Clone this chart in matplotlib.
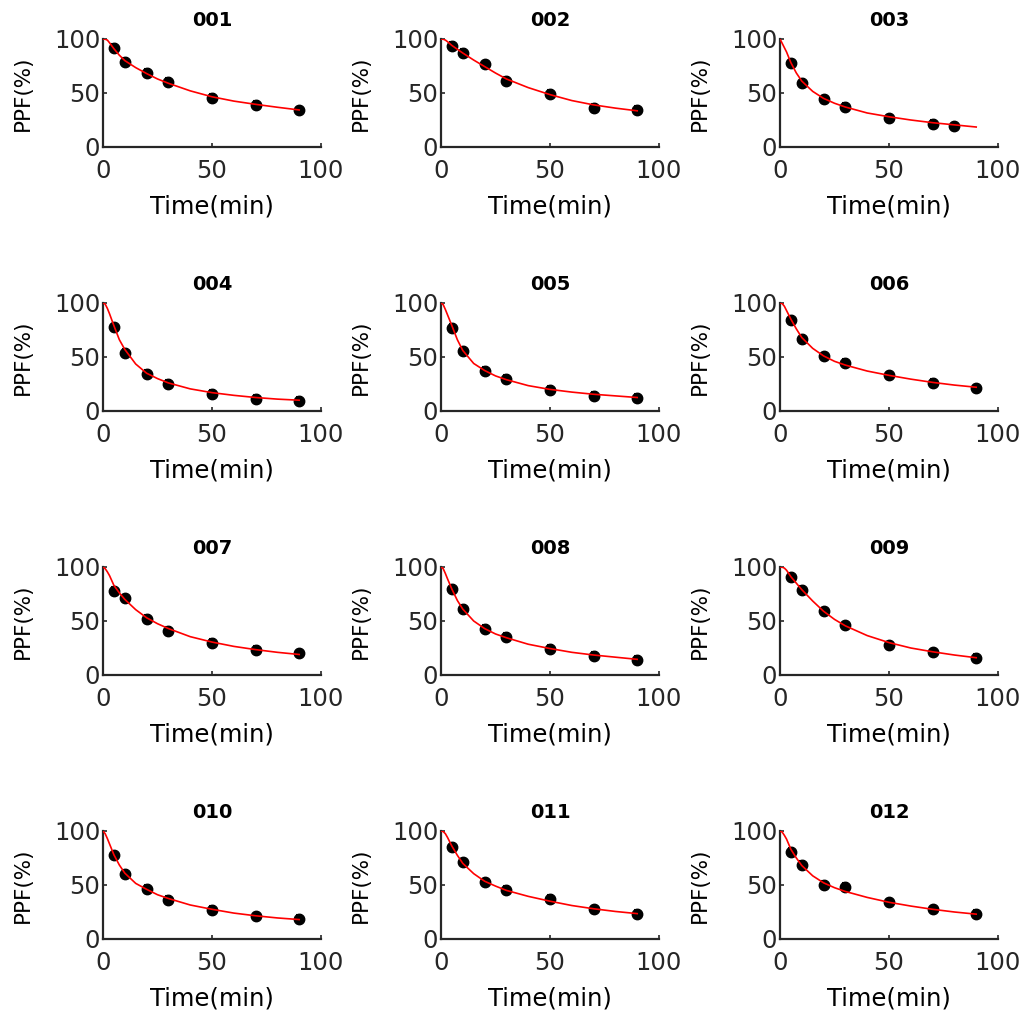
import numpy as np
import matplotlib
matplotlib.use('Agg')
import matplotlib.pyplot as plt

# --- panel names ---
names = ['001', '002', '003', '004', '005', '006',
         '007', '008', '009', '010', '011', '012']

# --- measured points (time in min, PPF in %) ---
t_obs = [5, 10, 20, 30, 50, 70, 90]
t_obs_003 = [5, 10, 20, 30, 50, 70, 80]

ppf_001 = [92, 78.5, 68.5, 60, 45.5, 39, 34]
ppf_002 = [93.5, 87, 76.5, 61.5, 49.5, 36, 34.5]
ppf_003 = [77.5, 59.5, 44, 37, 26.5, 21.5, 19]
ppf_004 = [77.5, 53.5, 34, 25, 16, 11.5, 9.5]
ppf_005 = [77, 55.5, 37, 29.5, 19.5, 14, 12]
ppf_006 = [84.5, 66.5, 50.5, 44.5, 33, 26, 21]
ppf_007 = [78, 71, 52, 41, 30, 23.5, 20]
ppf_008 = [79.5, 61.5, 43, 35, 24, 18, 14]
ppf_009 = [90.5, 79, 59, 46, 27.5, 21, 15.5]
ppf_010 = [77.5, 60, 46.5, 36.5, 27, 21, 18.5]
ppf_011 = [85, 71, 52.5, 45.5, 37, 27.5, 23]
ppf_012 = [81, 68.5, 50, 48.5, 34, 27.5, 23.5]

# error bar half-widths
err = [3.5, 3.5, 3.5, 3.5, 3.5, 3.5, 3.5]

# --- fitted curves, read at these times ---
t_fit = [0, 1, 2, 3, 5, 7.5, 10, 15, 20, 25, 30, 40, 50, 60, 70, 80, 90]

fit_001 = [100, 99.8, 99, 96.5, 91, 85, 80, 73.5, 68, 63, 59, 52, 46.5, 42.5, 39.5, 36.8, 34.3]
fit_002 = [100, 99.8, 99, 97.5, 94, 90.5, 87, 80.5, 74.5, 68.5, 63, 55, 48.5, 43, 39, 36, 33.5]
fit_003 = [100, 96, 92, 88, 78, 68.5, 61, 51.5, 45, 40.5, 37, 31.5, 28, 25, 22.5, 20.5, 18.5]
fit_004 = [100, 99, 95, 90, 79, 66, 57, 43.5, 35, 30, 26, 20.5, 17, 14.5, 12.5, 11, 10]
fit_005 = [100, 98.5, 94, 89, 79, 66, 56, 44, 37.5, 32.5, 29, 23.5, 20, 17.5, 15.5, 14, 12.5]
fit_006 = [100, 99.5, 97, 93, 85, 76, 68, 58, 51, 46, 42.5, 37, 33, 29.5, 26.5, 24, 22]
fit_007 = [100, 98.5, 95.5, 92, 83, 76, 70, 60.5, 53, 47.5, 43, 35.5, 30.5, 26.5, 23.5, 21, 19]
fit_008 = [100, 98.5, 94, 89, 79.5, 69, 61, 50, 43, 38, 34.5, 28.5, 24.5, 21, 18.5, 16.5, 14.5]
fit_009 = [100, 99.8, 99, 97, 91, 85, 79, 68.5, 59, 51.5, 45.5, 36.5, 30, 25, 21.5, 18.5, 16]
fit_010 = [100, 97.5, 93, 88, 78, 68.5, 61, 51.5, 46, 41, 37.5, 31.5, 27.5, 24, 21.5, 19.5, 18]
fit_011 = [100, 99.5, 97.5, 94, 86, 77.5, 70, 60.5, 53.5, 49, 45, 39.5, 35, 31, 28, 25.5, 23.5]
fit_012 = [100, 99, 96, 92.5, 83, 75, 68, 58.5, 52, 47.5, 44, 38.5, 34, 30.5, 27.5, 25, 23]

obs = [ppf_001, ppf_002, ppf_003, ppf_004, ppf_005, ppf_006,
       ppf_007, ppf_008, ppf_009, ppf_010, ppf_011, ppf_012]
fits = [fit_001, fit_002, fit_003, fit_004, fit_005, fit_006,
        fit_007, fit_008, fit_009, fit_010, fit_011, fit_012]

W, H = 1026, 1011
fig = plt.figure(figsize=(W / 100, H / 100), dpi=100)

col_left = [103, 441, 780]
row_top = [39, 303, 567, 831]
ax_w, ax_h = 218, 108
axis_col = '#262626'

for i, name in enumerate(names):
    r, c = divmod(i, 3)
    ax = fig.add_axes([col_left[c] / W, 1 - (row_top[r] + ax_h) / H, ax_w / W, ax_h / H])

    tt = t_obs_003 if name == '003' else t_obs
    ax.errorbar(tt, obs[i], yerr=err, fmt='o', color='black', ms=7.5,
                elinewidth=1.8, capsize=2.5, capthick=1.5, zorder=2)
    ax.plot(t_fit, fits[i], color='red', lw=1.2, zorder=3)

    ax.set_xlim(0, 100)
    ax.set_ylim(0, 100)
    ax.set_xticks([0, 50, 100])
    ax.set_yticks([0, 50, 100])
    for side in ['top', 'right']:
        ax.spines[side].set_visible(False)
    for side in ['left', 'bottom']:
        ax.spines[side].set_linewidth(1.6)
        ax.spines[side].set_color(axis_col)
    ax.tick_params(direction='in', length=3, width=1.2, colors=axis_col,
                   labelsize=17.5, labelcolor=axis_col)
    ax.tick_params(axis='x', pad=9)
    ax.tick_params(axis='y', pad=2)

    ax.set_title(name, fontsize=14, fontweight='bold', pad=9)
    ax.set_xlabel('Time(min)', fontsize=17.5)
    ax.set_ylabel('PPF(%)', fontsize=15.5)
    ax.xaxis.set_label_coords(0.5, -0.44)
    ax.yaxis.set_label_coords(-0.32, 0.5)

fig.savefig('out.png', dpi=100)
